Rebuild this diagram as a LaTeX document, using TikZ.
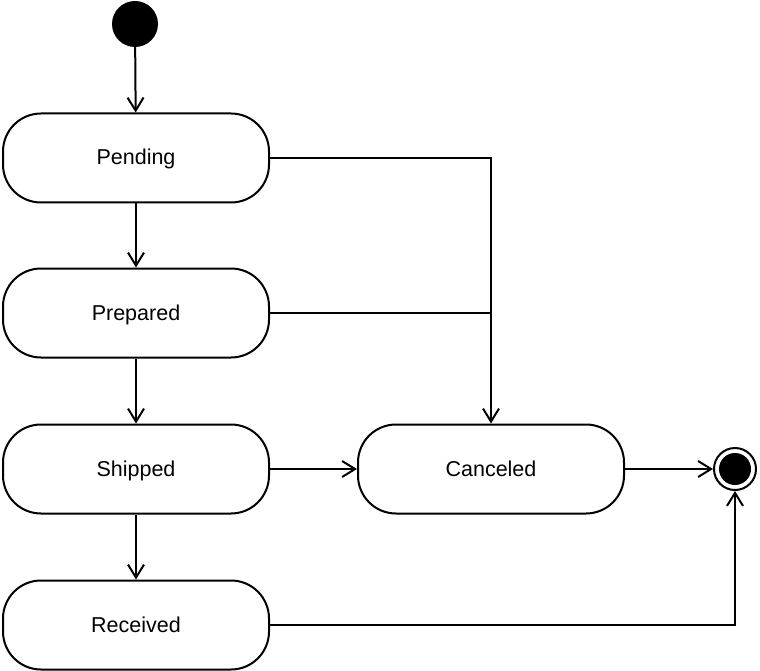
\documentclass[tikz,border=0pt]{standalone}
\usepackage{fontspec}
\setmainfont{Liberation Sans}
\usetikzlibrary{arrows.meta}
\begin{document}
\begin{tikzpicture}[x=1pt,y=-1pt,
  statebox/.style={draw,line width=2pt,rounded corners=38pt,minimum width=266pt,minimum height=89pt,inner sep=0pt,text height=15pt,text depth=1pt,font=\fontsize{21.5}{25}\selectfont},
  conn/.style={line width=2pt,-{Straight Barb[length=13pt,width=16pt,line width=2pt]}},
  plain/.style={line width=2pt}]
\useasboundingbox (0,0) rectangle (760,671);
\node[circle,fill=black,minimum size=46pt,inner sep=0pt] (init) at (135,24) {};
\node[statebox] (pending) at (136,158) {Pending};
\node[statebox] (prepared) at (136,313) {Prepared};
\node[statebox] (shipped) at (136,469) {Shipped};
\node[statebox] (received) at (136,625) {Received};
\node[statebox] (canceled) at (491,469) {Canceled};
\node[circle,draw,line width=2pt,minimum size=42pt,inner sep=0pt] (final) at (735,469) {};
\node[circle,fill=black,minimum size=32pt,inner sep=0pt] (finalin) at (735,469) {};
\coordinate (j1) at (491,158);
\coordinate (j2) at (491,313);
\coordinate (j3) at (735,625);
\draw[conn] (init) -- (pending);
\draw[conn] (pending) -- (prepared);
\draw[conn] (prepared) -- (shipped);
\draw[conn] (shipped) -- (received);
\draw[conn] (shipped) -- (canceled);
\draw[conn] (canceled) -- (final);
\draw[conn] (pending.east) -- (j1) -- (canceled.north);
\draw[plain] (prepared.east) -- (j2);
\draw[conn] (received.east) -- (j3) -- (final.south);
\end{tikzpicture}
\end{document}
